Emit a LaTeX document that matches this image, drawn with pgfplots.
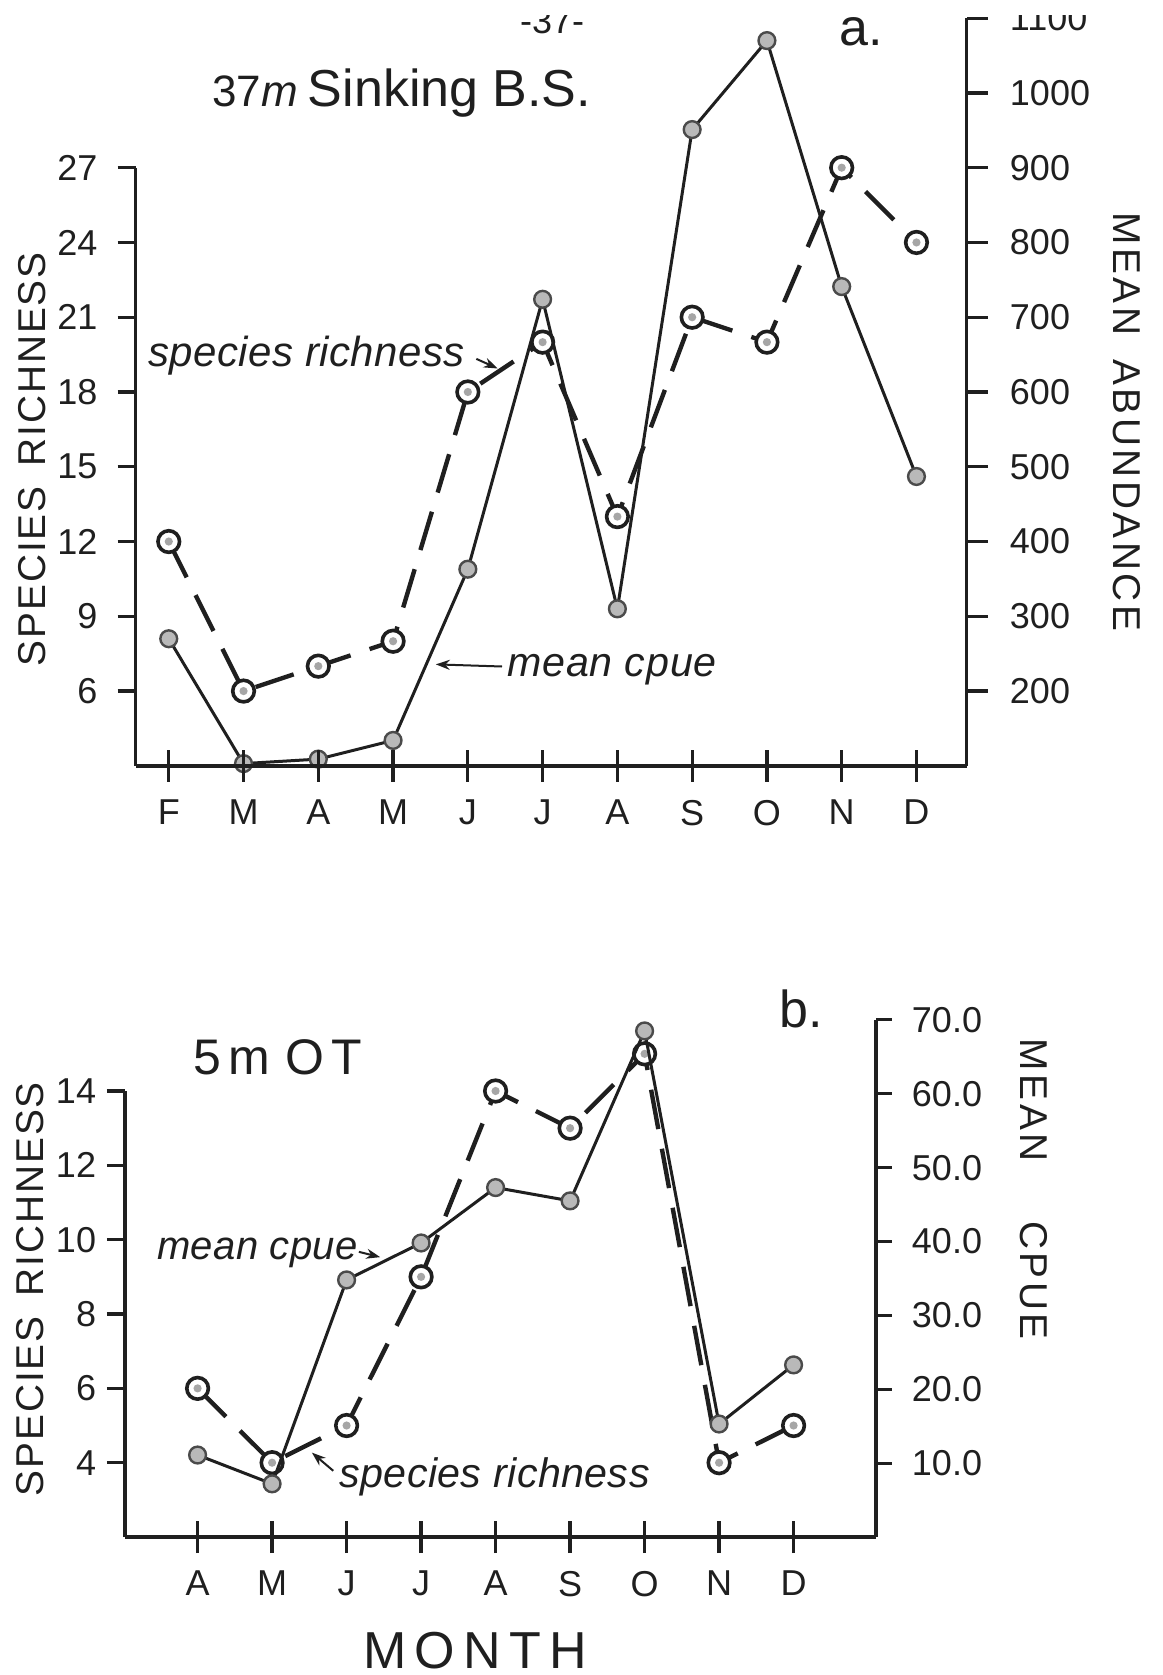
\documentclass[border=0pt]{standalone}
\usepackage{pgfplots}
\pgfplotsset{compat=1.18}
\usepackage{pgfplotstable}
\usepackage{fontspec}
\setmainfont{Liberation Sans}
\usetikzlibrary{arrows.meta}

\pgfdeclareplotmark{circdot}{%
  \begin{pgfscope}\pgfsetfillcolor{white}%
  \pgfpathcircle{\pgfpointorigin}{\pgfplotmarksize}\pgfusepathqfillstroke\end{pgfscope}%
  \pgfpathcircle{\pgfpointorigin}{0.38\pgfplotmarksize}\pgfusepathqfill}

\pgfplotstableread{
x v
0 12
1 6
2 7
3 8
4 18
5 20
6 13
7 21
8 20
9 27
10 24
}\richA
\pgfplotstableread{
x v
0 270
1 103
2 109
3 134
4 363
5 724
6 310
7 951
8 1070
9 741
10 487
}\cpueA
\pgfplotstableread{
x v
0 6
1 4
2 5
3 9
4 14
5 13
6 15
7 4
8 5
}\richB
\pgfplotstableread{
x v
0 11.1
1 7.2
2 34.8
3 39.8
4 47.3
5 45.5
6 68.5
7 15.3
8 23.3
}\cpueB

\definecolor{ink}{gray}{0.12}
\pgfplotsset{
  base/.style={scale only axis, clip=false, anchor=south west,
    axis line style={line width=0.9pt, color=ink},
    tick style={line width=0.8pt, color=ink},
    ticklabel style={font=\fontsize{9}{9}\selectfont, color=ink}},
  richstyle/.style={color=ink, line width=1.1pt, dash pattern=on 10pt off 5pt,
    mark=circdot, mark size=2.7pt, mark options={solid, line width=0.9pt, fill=gray!70, draw=ink}},
  cpuestyle/.style={color=ink, line width=0.75pt,
    mark=*, mark size=2.1pt, mark options={solid, line width=0.6pt, fill=gray!55, draw=ink!80}},
}

\begin{document}
\begin{tikzpicture}
\useasboundingbox (0,0) rectangle (290.75pt,418.75pt);

% ---------------- Panel a ----------------
\begin{axis}[base, at={(33.91pt,227.29pt)}, width=207.75pt, height=149.54pt,
  xmin=-0.443, xmax=10.671, ymin=3, ymax=27,
  axis x line=none, axis y line*=left,
  tick align=outside, major tick length=4.5pt,
  ytick={6,9,12,15,18,21,24,27}, yticklabels={6,9,12,15,18,21,24,27},
  yticklabel style={xshift=-1.5pt}]
\addplot[richstyle] table[x=x,y=v] {\richA};
\end{axis}
\begin{axis}[base, at={(33.91pt,227.29pt)}, width=207.75pt, height=186.92pt,
  xmin=-0.443, xmax=10.671, ymin=100, ymax=1100,
  axis x line=none, axis y line*=right,
  tick align=outside, major tick length=5.3pt,
  ytick={200,300,400,500,600,700,800,900,1000,1100},
  yticklabels={200,300,400,500,600,700,800,900,1000,1100},
  yticklabel style={xshift=2pt}]
\addplot[cpuestyle] table[x=x,y=v] {\cpueA};
\end{axis}
\begin{axis}[base, at={(33.91pt,227.29pt)}, width=207.75pt, height=149.54pt,
  xmin=-0.443, xmax=10.671, ymin=3, ymax=27,
  axis y line=none, axis x line*=bottom,
  tick align=center, major tick length=8pt,
  xtick={0,1,2,3,4,5,6,7,8,9,10}, xticklabels={F,M,A,M,J,J,A,S,O,N,D},
  xticklabel style={yshift=-1pt}]
\end{axis}

% ---------------- Panel b ----------------
\begin{axis}[base, at={(31.24pt,34.49pt)}, width=187.72pt, height=111.51pt,
  xmin=-0.975, xmax=9.104, ymin=2, ymax=14,
  axis x line=none, axis y line*=left,
  tick align=outside, major tick length=4.5pt,
  ytick={4,6,8,10,12,14}, yticklabels={4,6,8,10,12,14},
  yticklabel style={xshift=0.8pt}]
\addplot[richstyle] table[x=x,y=v] {\richB};
\end{axis}
\begin{axis}[base, at={(31.24pt,34.49pt)}, width=187.72pt, height=129.30pt,
  xmin=-0.975, xmax=9.104, ymin=0, ymax=70,
  axis x line=none, axis y line*=right,
  tick align=outside, major tick length=4pt,
  ytick={10,20,30,40,50,60,70},
  yticklabels={10.0,20.0,30.0,40.0,50.0,60.0,70.0},
  yticklabel style={xshift=1.5pt}]
\addplot[cpuestyle] table[x=x,y=v] {\cpueB};
\end{axis}
\begin{axis}[base, at={(31.24pt,34.49pt)}, width=187.72pt, height=111.51pt,
  xmin=-0.975, xmax=9.104, ymin=2, ymax=14,
  axis y line=none, axis x line*=bottom,
  tick align=center, major tick length=8pt,
  xtick={0,1,2,3,4,5,6,7,8}, xticklabels={A,M,J,J,A,S,O,N,D},
  xticklabel style={yshift=-1pt}]
\end{axis}

% ---------------- Annotations (reference pixel frame) ----------------
\begin{scope}[shift={(0,418.75pt)}, x=0.26703pt, y=-0.26703pt, color=ink]
  % panel a
  \node at (517,20) {\fontsize{9}{9}\selectfont -37-};
  \node at (806,30) {\fontsize{13}{13}\selectfont a.};
  \node[anchor=base west, inner sep=0pt] at (198,100) {{\fontsize{11}{11}\selectfont 37\textit{m}}\hspace{2.5pt}{\fontsize{13}{13}\selectfont Sinking B.S.}};
  \node[rotate=90] at (30,430) {\fontsize{9.7}{9.7}\selectfont\addfontfeatures{LetterSpace=5}SPECIES\hspace{5pt}RICHNESS};
  \node[rotate=-90] at (1055,395) {\fontsize{9.7}{9.7}\selectfont\addfontfeatures{LetterSpace=9}MEAN\hspace{6pt}ABUNDANCE};
  \node at (287,333) {\fontsize{10.5}{10.5}\selectfont\itshape\addfontfeatures{LetterSpace=1}species richness};
  \draw[-{Stealth[length=3.5pt,width=2.5pt]}, line width=0.5pt] (446,336) -- (466,345);
  \node at (573,627) {\fontsize{10.3}{10.3}\selectfont\itshape\addfontfeatures{LetterSpace=2}mean cpue};
  \draw[-{Stealth[length=3.5pt,width=2.5pt]}, line width=0.5pt] (470,624) -- (408,622);
  % panel b
  \node at (750,945) {\fontsize{13}{13}\selectfont b.};
  \node at (260,990) {\fontsize{12.5}{12.5}\selectfont\addfontfeatures{LetterSpace=14}5m\hspace{4pt}OT};
  \node[rotate=90] at (28,1207) {\fontsize{9.7}{9.7}\selectfont\addfontfeatures{LetterSpace=5}SPECIES\hspace{5pt}RICHNESS};
  \node[rotate=-90] at (968,1030) {\fontsize{9.7}{9.7}\selectfont\addfontfeatures{LetterSpace=9}MEAN};
  \node[rotate=-90] at (968,1199) {\fontsize{9.7}{9.7}\selectfont\addfontfeatures{LetterSpace=9}CPUE};
  \node at (241,1173) {\fontsize{10}{10}\selectfont\itshape\addfontfeatures{LetterSpace=1}mean cpue};
  \draw[-{Stealth[length=3.5pt,width=2.5pt]}, line width=0.5pt] (336,1172) -- (356,1177);
  \node at (463,1383) {\fontsize{10.3}{10.3}\selectfont\itshape\addfontfeatures{LetterSpace=1}species richness};
  \draw[-{Stealth[length=3.5pt,width=2.5pt]}, line width=0.5pt] (312,1377) -- (292,1360);
  \node at (445,1545) {\fontsize{13}{13}\selectfont\addfontfeatures{LetterSpace=16}MONTH};
  % top edge of the scanned page
  \fill[white] (0,0) rectangle (1089,14);
\end{scope}
\end{tikzpicture}
\end{document}
